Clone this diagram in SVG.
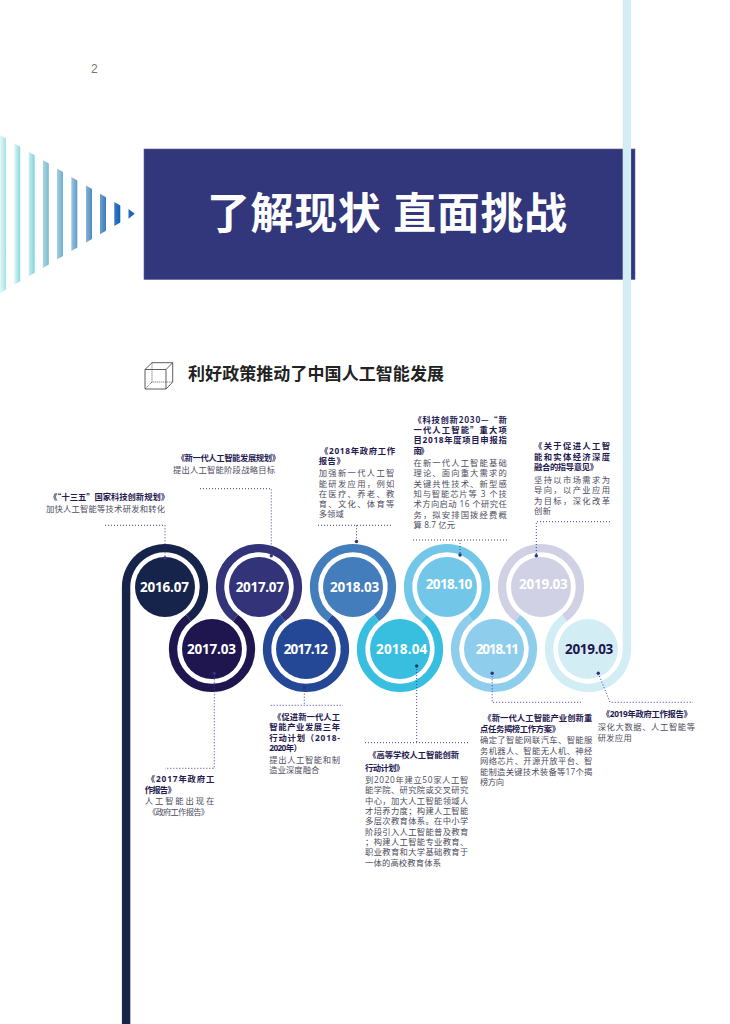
<svg xmlns="http://www.w3.org/2000/svg" width="730" height="1024" viewBox="0 0 730 1024">
<style>
text{font-family:"Open Sans","Noto Sans CJK SC",sans-serif}
.h{font-size:8.3px;font-weight:700;fill:#1f1a50}
.b{font-size:8.3px;font-weight:400;fill:#4d4d60}
.q{font-family:"Noto Sans CJK SC",sans-serif}
.y{font-size:13.5px;font-weight:700;fill:#fff}
.r{fill:none;stroke-width:8.4}
.d{fill:none;stroke:#3a3f90;stroke-width:1;stroke-dasharray:1 2}
.p{fill:#2e3380}
.c{fill:none;stroke:#333;stroke-width:.8}
</style>
<defs>
<linearGradient id="g0"><stop offset="0" stop-color="#e6f7f7"/><stop offset="1" stop-color="#a3e3e6"/></linearGradient>
<linearGradient id="g1"><stop offset="0" stop-color="#e6f7f7"/><stop offset="1" stop-color="#85d9de"/></linearGradient>
<linearGradient id="g2"><stop offset="0" stop-color="#c8eef0"/><stop offset="1" stop-color="#80d4dc"/></linearGradient>
<linearGradient id="g3"><stop offset="0" stop-color="#b5d3df"/><stop offset="1" stop-color="#6fc0d0"/></linearGradient>
<linearGradient id="g4"><stop offset="0" stop-color="#a8cde0"/><stop offset="1" stop-color="#6fb0d0"/></linearGradient>
<linearGradient id="g5"><stop offset="0" stop-color="#9fc4de"/><stop offset="1" stop-color="#5a9ccc"/></linearGradient>
<linearGradient id="g6"><stop offset="0" stop-color="#8ab3d8"/><stop offset="1" stop-color="#4c8bc4"/></linearGradient>
<linearGradient id="g7"><stop offset="0" stop-color="#6f9fd0"/><stop offset="1" stop-color="#3a7cbc"/></linearGradient>
<linearGradient id="g8"><stop offset="0" stop-color="#3878bf"/><stop offset="1" stop-color="#0f62b0"/></linearGradient>
<linearGradient id="g9"><stop offset="0" stop-color="#2a6cb8"/><stop offset="1" stop-color="#0a58ad"/></linearGradient>
</defs>
<rect width="730" height="1024" fill="#fff"/>
<text x="91" y="73" style="font-family:'Liberation Sans',sans-serif;font-size:12px;fill:#777">2</text>
<g id="arrow-bars">
<polygon points="0,135 6,138.5 6,289.5 0,293" fill="url(#g0)"/>
<polygon points="14.2,143.3 20.2,146.8 20.2,281.2 14.2,284.7" fill="url(#g1)"/>
<polygon points="28.7,151.8 34.7,155.3 34.7,272.7 28.7,276.2" fill="url(#g2)"/>
<polygon points="42.8,160.1 48.8,163.6 48.8,264.4 42.8,267.9" fill="url(#g3)"/>
<polygon points="57,168.5 63,172 63,256 57,259.5" fill="url(#g4)"/>
<polygon points="71.3,176.9 77.3,180.4 77.3,247.6 71.3,251.1" fill="url(#g5)"/>
<polygon points="86,185.5 92,189 92,239 86,242.5" fill="url(#g6)"/>
<polygon points="100,193.7 106,197.2 106,230.8 100,234.3" fill="url(#g7)"/>
<polygon points="114.3,202.1 120.3,205.6 120.3,222.4 114.3,225.9" fill="url(#g8)"/>
<polygon points="128.5,209 134.7,213.8 128.5,218.7" fill="url(#g9)"/>
</g>
<g id="banner">
<rect x="144" y="149" width="491" height="130.500" fill="#32367a" stroke="#5a5e96" stroke-width=".6"/>
<text x="207" y="229" textLength="360" style="font-size:43px;font-weight:700;fill:#fff">了解现状 直面挑战</text>
</g>
<g id="section-heading">
<path class="c" d="M145,369.500H166V389H145ZM152,362.700H172.700V382M145,369.500L152,362.700M166,369.500L172.700,362.700M166,389L172.700,382"/>
<path class="c" stroke-dasharray="1 1" d="M152,362.700V382H172.700M152,382L145,389"/>
<text x="188" y="380" textLength="256" style="font-size:17px;font-weight:700;fill:#222">利好政策推动了中国人工智能发展</text>
</g>

<g id="node-2016-07">
<path class="r" stroke="#16234a" d="M126.100,1024V587A38.900,38.900 0 1 1 188.500,618"/>
<circle cx="165" cy="587" r="30" fill="#16234a"/>
<text class="y" x="140" y="591.500" textLength="49">2016.07</text>
<text class="h q" x="49" y="499.500" textLength="120">《“十三五”国家科技创新规划》</text>
<text class="b" x="46" y="511.700" textLength="119">加快人工智能等技术研发和转化</text>
</g>
<g id="node-2017-03">
<path class="r" stroke="#1f1650" d="M188.500,618A38.900,38.900 0 1 0 235.500,618"/>
<circle cx="212" cy="649" r="30" fill="#1f1650"/>
<text class="y" x="187" y="654" textLength="49">2017.03</text>
<text class="h" x="146.700" y="781.700" textLength="67.600">《2017年政府工</text>
<text class="h" x="144.700" y="792.700" textLength="31">作报告》</text>
<text class="b" x="144.700" y="804" textLength="69.600">人工智能出现在</text>
<text class="b" x="148" y="815" textLength="61">《政府工作报告》</text>
</g>
<g id="node-2017-07">
<path class="r" stroke="#323378" d="M235.500,618A38.900,38.900 0 1 1 282.500,618"/>
<circle cx="259" cy="587" r="30" fill="#323378"/>
<text class="y" x="235.700" y="591.500" textLength="48.300">2017.07</text>
<text class="h" x="176.700" y="460.700" textLength="103.300">《新一代人工智能发展规划》</text>
<text class="b" x="173" y="473.300" textLength="102">提出人工智能阶段战略目标</text>
</g>
<g id="node-2017-12">
<path class="r" stroke="#254896" d="M282.500,618A38.900,38.900 0 1 0 329.500,618"/>
<circle cx="306" cy="649" r="30" fill="#254896"/>
<text class="y" x="283.700" y="654" textLength="44.300">2017.12</text>
<text class="h" x="273" y="719.500" textLength="67">《促进新一代人工</text>
<text class="h" x="269.300" y="730" textLength="70.700">智能产业发展三年</text>
<text class="h" x="269.300" y="740.500" textLength="70.700">行动计划（2018-</text>
<text class="h" x="269.300" y="751" textLength="32.400">2020年）</text>
<text class="b" x="269.300" y="762.700" textLength="70.700">提出人工智能和制</text>
<text class="b" x="269.300" y="772.700" textLength="50">造业深度融合</text>
</g>
<g id="node-2018-03">
<path class="r" stroke="#447dbc" d="M329.500,618A38.900,38.900 0 1 1 376.500,618"/>
<circle cx="353" cy="587" r="30" fill="#447dbc"/>
<text class="y" x="330" y="591.500" textLength="49.300">2018.03</text>
<text class="h" x="320" y="454" textLength="75">《2018年政府工作</text>
<text class="h" x="318.700" y="464" textLength="26">报告》</text>
<text class="b" x="318.700" y="476" textLength="75.600">加强新一代人工智</text>
<text class="b" x="318.700" y="486.500" textLength="75.600">能研发应用，例如</text>
<text class="b" x="318.700" y="496.500" textLength="75.600">在医疗、养老、教</text>
<text class="b" x="318.700" y="507" textLength="75.600">育、文化、体育等</text>
<text class="b" x="318.700" y="517" textLength="25">多领域</text>
</g>
<g id="node-2018-04">
<path class="r" stroke="#38bfe0" d="M376.500,618A38.900,38.900 0 1 0 423.500,618"/>
<circle cx="400" cy="649" r="30" fill="#38bfe0"/>
<text class="y" x="376" y="654" textLength="51.300">2018.04</text>
<text class="h" x="368.300" y="758.300" textLength="90.700">《高等学校人工智能创新</text>
<text class="h" x="365" y="770.700" textLength="39.300">行动计划》</text>
<text class="b" x="365" y="783" textLength="103.300">到2020年建立50家人工智</text>
<text class="b" x="365" y="793.300" textLength="103.300">能学院、研究院或交叉研究</text>
<text class="b" x="365" y="803.700" textLength="103.300">中心，加大人工智能领域人</text>
<text class="b" x="365" y="814" textLength="103.300">才培养力度；构建人工智能</text>
<text class="b" x="365" y="824.300" textLength="103.300">多层次教育体系。在中小学</text>
<text class="b" x="365" y="834.700" textLength="103.300">阶段引入人工智能普及教育</text>
<text class="b" x="365" y="845" textLength="103.300">；构建人工智能专业教育、</text>
<text class="b" x="365" y="855.300" textLength="103.300">职业教育和大学基础教育于</text>
<text class="b" x="365" y="865.700" textLength="76">一体的高校教育体系</text>
</g>
<g id="node-2018-10">
<path class="r" stroke="#72c7e8" d="M423.500,618A38.900,38.900 0 1 1 470.500,618"/>
<circle cx="447" cy="587" r="30" fill="#72c7e8"/>
<text class="y" x="425.700" y="589" textLength="46.600">2018.10</text>
<text class="h q" x="413.500" y="422.500" textLength="93.200">《科技创新2030—“新</text>
<text class="h q" x="413.500" y="432.700" textLength="93.200">一代人工智能”重大项</text>
<text class="h" x="413.500" y="443" textLength="93.200">目2018年度项目申报指</text>
<text class="h" x="413.500" y="453.500" textLength="15">南》</text>
<text class="b" x="413.500" y="465.700" textLength="93.200">在新一代人工智能基础</text>
<text class="b" x="413.500" y="476" textLength="93.200">理论、面向重大需求的</text>
<text class="b" x="413.500" y="486.500" textLength="93.200">关键共性技术、新型感</text>
<text class="b" x="413.500" y="497" textLength="93.200">知与智能芯片等 3 个技</text>
<text class="b" x="413.500" y="507.300" textLength="93.200">术方向启动 16 个研究任</text>
<text class="b" x="413.500" y="517.800" textLength="93.200">务，拟安排国拨经费概</text>
<text class="b" x="413.500" y="528" textLength="41.500">算 8.7 亿元</text>
</g>
<g id="node-2018-11">
<path class="r" stroke="#8fcdec" d="M470.500,618A38.900,38.900 0 1 0 517.500,618"/>
<circle cx="494" cy="649" r="30" fill="#8fcdec"/>
<text class="y" x="475.700" y="654" textLength="43.300">2018.11</text>
<text class="h" x="483.300" y="721" textLength="109">《新一代人工智能产业创新重</text>
<text class="h" x="480" y="731.700" textLength="80">点任务揭榜工作方案》</text>
<text class="b" x="480" y="743.300" textLength="112.300">确定了智能网联汽车、智能服</text>
<text class="b" x="480" y="754" textLength="112.300">务机器人、智能无人机、神经</text>
<text class="b" x="480" y="764.300" textLength="112.300">网络芯片、开源开放平台、智</text>
<text class="b" x="480" y="774.700" textLength="112.300">能制造关键技术装备等17个揭</text>
<text class="b" x="480" y="785" textLength="24">榜方向</text>
</g>
<g id="node-2019-03-a">
<path class="r" stroke="#d0d1e4" d="M517.500,618A38.900,38.900 0 1 1 564.500,618"/>
<circle cx="541" cy="587" r="30" fill="#d0d1e4"/>
<text class="y" x="519" y="589" textLength="48.700">2019.03</text>
<text class="h" x="534" y="449.300" textLength="76">《关于促进人工智</text>
<text class="h" x="534" y="459.700" textLength="76">能和实体经济深度</text>
<text class="h" x="534" y="470" textLength="64">融合的指导意见》</text>
<text class="b" x="534" y="482.700" textLength="76">坚持以市场需求为</text>
<text class="b" x="534" y="493" textLength="76">导向，以产业应用</text>
<text class="b" x="534" y="503.500" textLength="76">为目标，深化改革</text>
<text class="b" x="534" y="514" textLength="17">创新</text>
</g>
<g id="node-2019-03-b">
<path class="r" stroke="#d3edf5" d="M564.500,618A38.900,38.900 0 1 0 626.900,649V0"/>
<circle cx="588" cy="649" r="30" fill="#d3edf5"/>
<text class="y" x="565" y="654" textLength="48.300" style="fill:#1f1650">2019.03</text>
<text class="h" x="601.700" y="717.300" textLength="90">《2019年政府工作报告》</text>
<text class="b" x="597.700" y="730" textLength="97.300">深化大数据、人工智能等</text>
<text class="b" x="597.700" y="741" textLength="34">研发应用</text>
</g>

<g id="connectors">
<path class="d" d="M105,525.300H165V558"/><circle class="p" cx="165" cy="558" r="1.700"/>
<path class="d" d="M200,488.700H271.300V555.700"/><circle class="p" cx="271.300" cy="555.700" r="1.700"/>
<path class="d" d="M318,525.300H393M356.500,525.300V541.500"/><circle class="p" cx="356.500" cy="541.500" r="1.700"/>
<path class="d" d="M413,540H507M460,540V555"/><circle class="p" cx="460" cy="555" r="1.700"/>
<path class="d" d="M610,521.700H536.300V555.700"/><circle class="p" cx="536.300" cy="555.700" r="1.700"/>
<path class="d" d="M214.300,673.300V768.300H165"/><circle class="p" cx="214.300" cy="673.300" r="1.700"/>
<path class="d" d="M304.300,687.700V705.300M270.700,705.300H343"/><circle class="p" cx="304.300" cy="687.700" r="1.700"/>
<path class="d" d="M416.700,666V742.700M365,742.700H468.300"/><circle class="p" cx="416.700" cy="666" r="1.700"/>
<path class="d" d="M492.200,673.300V702.300H581"/><circle class="p" cx="492.200" cy="673.300" r="1.700"/>
<path class="d" d="M598.300,673.300L610,702.300H693"/><circle class="p" cx="598.300" cy="673.300" r="1.700"/>
</g>
</svg>
